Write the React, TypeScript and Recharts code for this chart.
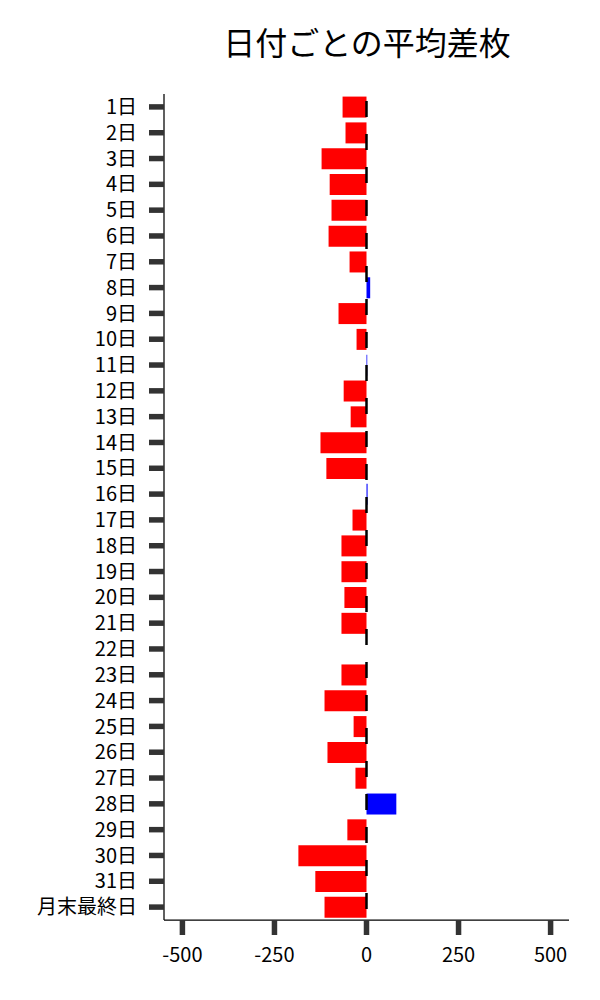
import React from 'react';
import { BarChart, Bar, XAxis, YAxis, Cell, ReferenceLine } from 'recharts';

const days = [
  '1日', '2日', '3日', '4日', '5日', '6日', '7日', '8日', '9日', '10日',
  '11日', '12日', '13日', '14日', '15日', '16日', '17日', '18日', '19日', '20日',
  '21日', '22日', '23日', '24日', '25日', '26日', '27日', '28日', '29日', '30日',
  '31日', '月末最終日',
];

const avgDiff = [
  -65, -57, -122, -100, -95, -103, -46, 10, -76, -27,
  2, -62, -43, -125, -109, 3, -38, -68, -68, -60,
  -68, 0, -68, -114, -35, -106, -30, 81, -52, -185,
  -139, -114,
];

const xTicks = [-500, -250, 0, 250, 500];
const title = '日付ごとの平均差枚';

const data = days.map((d, i) => ({ day: d, value: avgDiff[i] }));

const FONT = '"Noto Sans CJK JP", "Noto Sans", sans-serif';

export default function App() {
  return (
    <div style={{ position: 'absolute', left: 0, top: 0, width: 600, height: 1000, background: '#fff' }}>
      <svg width={600} height={90} style={{ position: 'absolute', left: 0, top: 0 }}>
        <text x={367} y={55} textAnchor="middle" fontFamily={FONT} fontSize={32} fill="#000">
          {title}
        </text>
      </svg>
      <div style={{ position: 'absolute', left: 0, top: 0 }}>
        <BarChart
          width={600}
          height={1000}
          data={data}
          layout="vertical"
          margin={{ top: 94, right: 31, bottom: 20, left: 0 }}
          barCategoryGap="10%"
        >
          <XAxis
            type="number"
            domain={[-550, 550]}
            ticks={xTicks}
            allowDataOverflow
            height={60}
            axisLine={{ stroke: '#000', strokeWidth: 1.25 }}
            tickLine={{ stroke: '#333', strokeWidth: 5.5 }}
            tickSize={15}
            tickMargin={13}
            tick={{ fill: '#000', fontSize: 20, fontFamily: FONT }}
          />
          <YAxis
            type="category"
            dataKey="day"
            width={164}
            interval={0}
            axisLine={{ stroke: '#000', strokeWidth: 1.25 }}
            tickLine={{ stroke: '#333', strokeWidth: 5.5 }}
            tickSize={15}
            tickMargin={12}
            tick={{ fill: '#000', fontSize: 20, fontFamily: FONT }}
          />
          <Bar dataKey="value" isAnimationActive={false}>
            {data.map((e, i) => (
              <Cell key={i} fill={e.value >= 0 ? '#0000ff' : '#ff0000'} />
            ))}
          </Bar>
          <ReferenceLine
            x={0}
            stroke="#000"
            strokeWidth={2.5}
            strokeDasharray="16 17"
            strokeDashoffset={22}
          />
        </BarChart>
      </div>
    </div>
  );
}
